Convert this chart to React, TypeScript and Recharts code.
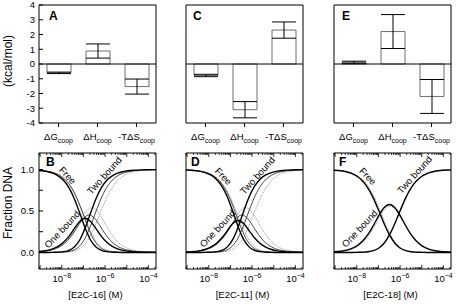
import React from 'react'
import {
  BarChart,
  Bar,
  ErrorBar,
  LineChart,
  Line,
  XAxis,
  YAxis,
  ReferenceLine,
  ReferenceDot,
} from 'recharts'

const FONT = '"Liberation Sans", Arial, Helvetica, sans-serif'

// cooperativity energetics, kcal/mol
const terms = ['ΔG', 'ΔH', '-TΔS']
const e2c16Energy = [-0.6, 0.88, -1.53]
const e2c16Err = [0.05, 0.48, 0.51]
const e2c11Energy = [-0.78, -3.1, 2.3]
const e2c11Err = [0.08, 0.55, 0.55]
const e2c18Energy = [0.12, 2.2, -2.2]
const e2c18Err = [0.07, 1.15, 1.15]

const energyTicks = [-4, -3, -2, -1, 0, 1, 2, 3, 4]
const fractionTicks = [0, 0.25, 0.5, 0.75, 1]
const decadeTicks = [-9, -8, -7, -6, -5, -4]
const labelledDecades = [-8, -6, -4]
const minorSteps = [2, 3, 4, 5, 6, 7, 8, 9]
const logDomain = [-9.05, -3.65]

// species fractions, x = log10 [protein] (M)
// E2C-16
const b16FitLog = [-9.67, -9.17, -8.67, -8.42, -8.17, -7.92, -7.67, -7.42, -7.17, -6.92, -6.67, -6.42, -6.17, -5.92, -5.67, -5.42, -5.17, -4.67, -4.17, -3.42]
const b16FitFree = [0.997, 0.992, 0.975, 0.957, 0.924, 0.87, 0.781, 0.648, 0.475, 0.294, 0.15, 0.065, 0.025, 0.009, 0.003, 0.001, 0, 0, 0, 0]
const b16FitOne = [0.003, 0.008, 0.024, 0.042, 0.073, 0.122, 0.194, 0.287, 0.374, 0.412, 0.374, 0.287, 0.194, 0.122, 0.073, 0.042, 0.024, 0.008, 0.003, 0]
const b16FitTwo = [0, 0, 0, 0.001, 0.003, 0.009, 0.025, 0.065, 0.15, 0.294, 0.475, 0.648, 0.781, 0.87, 0.924, 0.957, 0.975, 0.992, 0.997, 1]

const b16AltLog = [-9.49, -8.99, -8.49, -8.24, -7.99, -7.74, -7.49, -7.24, -6.99, -6.74, -6.49, -6.24, -5.99, -5.74, -5.49, -5.24, -4.99, -4.49, -3.99, -3.24]
const b16AltFree = [0.997, 0.991, 0.971, 0.95, 0.913, 0.851, 0.755, 0.617, 0.446, 0.274, 0.141, 0.062, 0.024, 0.009, 0.003, 0.001, 0, 0, 0, 0]
const b16AltOne = [0.003, 0.009, 0.029, 0.05, 0.085, 0.14, 0.221, 0.322, 0.414, 0.452, 0.414, 0.322, 0.221, 0.14, 0.085, 0.05, 0.029, 0.009, 0.003, 0.001]
const b16AltTwo = [0, 0, 0, 0.001, 0.003, 0.009, 0.024, 0.062, 0.141, 0.274, 0.446, 0.617, 0.755, 0.851, 0.913, 0.95, 0.971, 0.991, 0.997, 0.999]

const b16NcLog = [-9.37, -8.87, -8.37, -8.12, -7.87, -7.62, -7.37, -7.12, -6.87, -6.62, -6.37, -6.12, -5.87, -5.62, -5.37, -5.12, -4.87, -4.37, -3.87, -3.12]
const b16NcFree = [0.996, 0.987, 0.96, 0.93, 0.881, 0.803, 0.69, 0.543, 0.379, 0.23, 0.12, 0.054, 0.022, 0.008, 0.003, 0.001, 0, 0, 0, 0]
const b16NcOne = [0.004, 0.013, 0.04, 0.069, 0.116, 0.189, 0.288, 0.403, 0.501, 0.54, 0.501, 0.403, 0.288, 0.189, 0.116, 0.069, 0.04, 0.013, 0.004, 0.001]
const b16NcTwo = [0, 0, 0, 0.001, 0.003, 0.008, 0.022, 0.054, 0.12, 0.23, 0.379, 0.543, 0.69, 0.803, 0.881, 0.93, 0.96, 0.987, 0.996, 0.999]

// E2C-11
const d11FitLog = [-9.39, -8.89, -8.39, -8.14, -7.89, -7.64, -7.39, -7.14, -6.89, -6.64, -6.39, -6.14, -5.89, -5.64, -5.39, -5.14, -4.89, -4.39, -3.89, -3.14]
const d11FitFree = [0.998, 0.993, 0.978, 0.961, 0.932, 0.881, 0.798, 0.669, 0.495, 0.308, 0.157, 0.067, 0.025, 0.009, 0.003, 0.001, 0, 0, 0, 0]
const d11FitOne = [0.002, 0.007, 0.022, 0.038, 0.066, 0.11, 0.177, 0.264, 0.348, 0.385, 0.348, 0.264, 0.177, 0.11, 0.066, 0.038, 0.022, 0.007, 0.002, 0]
const d11FitTwo = [0, 0, 0, 0.001, 0.003, 0.009, 0.025, 0.067, 0.157, 0.308, 0.495, 0.669, 0.798, 0.881, 0.932, 0.961, 0.978, 0.993, 0.998, 1]

const d11AltLog = [-9.22, -8.72, -8.22, -7.97, -7.72, -7.47, -7.22, -6.97, -6.72, -6.47, -6.22, -5.97, -5.72, -5.47, -5.22, -4.97, -4.72, -4.22, -3.72, -2.97]
const d11AltFree = [0.997, 0.991, 0.971, 0.95, 0.913, 0.851, 0.755, 0.617, 0.446, 0.274, 0.141, 0.062, 0.024, 0.009, 0.003, 0.001, 0, 0, 0, 0]
const d11AltOne = [0.003, 0.009, 0.029, 0.05, 0.085, 0.14, 0.221, 0.322, 0.414, 0.452, 0.414, 0.322, 0.221, 0.14, 0.085, 0.05, 0.029, 0.009, 0.003, 0.001]
const d11AltTwo = [0, 0, 0, 0.001, 0.003, 0.009, 0.024, 0.062, 0.141, 0.274, 0.446, 0.617, 0.755, 0.851, 0.913, 0.95, 0.971, 0.991, 0.997, 0.999]

const d11NcLog = [-9.1, -8.55, -8.05, -7.8, -7.55, -7.3, -7.05, -6.8, -6.55, -6.3, -6.05, -5.8, -5.55, -5.3, -5.05, -4.8, -4.55, -4.05, -3.55, -2.8]
const d11NcFree = [0.996, 0.987, 0.96, 0.93, 0.881, 0.803, 0.69, 0.543, 0.379, 0.23, 0.12, 0.054, 0.022, 0.008, 0.003, 0.001, 0, 0, 0, 0]
const d11NcOne = [0.004, 0.013, 0.04, 0.069, 0.116, 0.189, 0.288, 0.403, 0.501, 0.54, 0.501, 0.403, 0.288, 0.189, 0.116, 0.069, 0.04, 0.013, 0.004, 0.001]
const d11NcTwo = [0, 0, 0, 0.001, 0.003, 0.008, 0.022, 0.054, 0.12, 0.23, 0.379, 0.543, 0.69, 0.803, 0.881, 0.93, 0.96, 0.987, 0.996, 0.999]

// E2C-18
const f18FitLog = [-9.24, -8.74, -8.24, -7.99, -7.74, -7.49, -7.24, -6.99, -6.74, -6.49, -6.24, -5.99, -5.74, -5.49, -5.24, -4.99, -4.74, -4.24, -3.74, -2.99]
const f18FitFree = [0.995, 0.985, 0.953, 0.919, 0.864, 0.778, 0.658, 0.508, 0.349, 0.211, 0.111, 0.051, 0.021, 0.008, 0.003, 0.001, 0, 0, 0, 0]
const f18FitOne = [0.005, 0.015, 0.047, 0.08, 0.134, 0.214, 0.322, 0.442, 0.54, 0.579, 0.54, 0.442, 0.322, 0.214, 0.134, 0.08, 0.047, 0.015, 0.005, 0.001]
const f18FitTwo = [0, 0, 0, 0.001, 0.003, 0.008, 0.021, 0.051, 0.111, 0.211, 0.349, 0.508, 0.658, 0.778, 0.864, 0.919, 0.953, 0.985, 0.995, 0.999]

const f18NcLog = [-9.21, -8.71, -8.21, -7.96, -7.71, -7.46, -7.21, -6.96, -6.71, -6.46, -6.21, -5.96, -5.71, -5.46, -5.21, -4.96, -4.71, -4.21, -3.71, -2.96]
const f18NcFree = [0.996, 0.986, 0.957, 0.926, 0.874, 0.794, 0.677, 0.529, 0.367, 0.222, 0.116, 0.053, 0.021, 0.008, 0.003, 0.001, 0, 0, 0, 0]
const f18NcOne = [0.004, 0.014, 0.043, 0.073, 0.123, 0.198, 0.301, 0.418, 0.516, 0.556, 0.516, 0.418, 0.301, 0.198, 0.123, 0.073, 0.043, 0.014, 0.004, 0.001]
const f18NcTwo = [0, 0, 0, 0.001, 0.003, 0.008, 0.021, 0.053, 0.116, 0.222, 0.367, 0.529, 0.677, 0.794, 0.874, 0.926, 0.957, 0.986, 0.996, 0.999]

type Row = { x: number; free: number; one: number; two: number }
const toRows = (log: number[], free: number[], one: number[], two: number[]): Row[] =>
  log.map((x, i) => ({ x, free: free[i], one: one[i], two: two[i] }))

const lineStyles: Record<string, any> = {
  fit: { stroke: '#000', strokeWidth: 1.4 },
  alt: { stroke: '#1a1a1a', strokeWidth: 0.8 },
  nc: { stroke: '#9a9a9a', strokeWidth: 0.9, strokeDasharray: '1.5 1' },
}

const logTicks = [...decadeTicks, ...[-10, ...decadeTicks].flatMap((n) => minorSteps.map((k) => n + Math.log10(k)))]
  .filter((v) => v > logDomain[0] && v < logDomain[1])
  .sort((a, b) => a - b)

function TermTick(props: any) {
  const { x, y, payload } = props
  return (
    <text x={x} y={y + 10} textAnchor="middle" fontFamily={FONT} fontSize={9.5} fill="#000">
      {payload.value}
      <tspan fontSize={7} dy={2.5}>coop</tspan>
    </text>
  )
}

function LogTick(props: any) {
  const { x, y, payload, side } = props
  const v = payload.value
  const major = Math.abs(v - Math.round(v)) < 1e-6
  const len = major ? 4 : 2
  const dir = side === 'top' ? 1 : -1
  const showLabel = side === 'bottom' && major && labelledDecades.includes(Math.round(v))
  return (
    <g>
      <line x1={x} y1={y} x2={x} y2={y + dir * len} stroke="#000" strokeWidth={0.8} />
      {showLabel && (
        <text x={x} y={y + 13} textAnchor="middle" fontFamily={FONT} fontSize={9.5} fill="#000">
          10<tspan fontSize={7} dy={-4}>{'\u2212' + Math.abs(Math.round(v))}</tspan>
        </text>
      )}
    </g>
  )
}

const yTitle = (text: string, cy: number) => (props: any) => {
  const vb = props.viewBox
  const cx = vb.x + 9
  return (
    <text
      transform={`translate(${cx},${cy}) rotate(-90)`}
      textAnchor="middle"
      dominantBaseline="central"
      fontFamily={FONT}
      fontSize={12}
      fill="#000"
    >
      {text}
    </text>
  )
}

const xTitle = (text: string) => (props: any) => {
  const vb = props.viewBox
  return (
    <text x={vb.x + vb.width / 2 - 2} y={vb.y + 29} textAnchor="middle" fontFamily={FONT} fontSize={9.5} fill="#000">
      {text}
    </text>
  )
}

const noteLabel = (text: string, angle: number) => (props: any) => {
  const vb = props.viewBox
  return (
    <text
      transform={`translate(${vb.x},${vb.y}) rotate(${angle})`}
      textAnchor="middle"
      dominantBaseline="central"
      fontFamily={FONT}
      fontSize={9.5}
      fill="#000"
    >
      {text}
    </text>
  )
}

function EnergyPanel({ frameLeft, values, errors, showY }: any) {
  const data = terms.map((t, i) => ({ term: t, value: values[i], err: errors[i] }))
  return (
    <div style={{ position: 'absolute', left: frameLeft - 40, top: 0 }}>
      <BarChart width={161} height={153} data={data} margin={{ top: 4, right: 3, bottom: 0, left: 0 }}>
        <XAxis xAxisId="b" dataKey="term" interval={0} tickSize={4} tickMargin={3} tick={<TermTick />} height={30} stroke="#000" />
        <XAxis xAxisId="t" orientation="top" dataKey="term" height={1} tick={false} tickLine={false} stroke="#000" />
        <YAxis
          yAxisId="l"
          domain={[-4, 4]}
          ticks={energyTicks}
          interval={0}
          width={40}
          tickSize={-4}
          tickMargin={8}
          stroke="#000"
          tick={showY ? { fontSize: 9.5, fill: '#000', fontFamily: FONT } : false}
          label={showY ? yTitle('(kcal/mol)', 61) : undefined}
        />
        <YAxis yAxisId="r" orientation="right" domain={[-4, 4]} ticks={energyTicks} interval={0} width={1} tickSize={-4} tick={false} stroke="#000" />
        <Bar xAxisId="b" yAxisId="l" dataKey="value" fill="#fff" stroke="#6e6e6e" strokeWidth={1} barSize={24} isAnimationActive={false}>
          <ErrorBar dataKey="err" width={12} stroke="#000" strokeWidth={1} direction="y" />
        </Bar>
        <ReferenceLine xAxisId="b" yAxisId="l" y={0} stroke="#000" strokeWidth={1} />
      </BarChart>
    </div>
  )
}

function SpeciesPanel({ frameLeft, title, sets, notes, showY }: any) {
  return (
    <div style={{ position: 'absolute', left: frameLeft - 40, top: 148 }}>
      <LineChart width={161} height={157} margin={{ top: 4, right: 3, bottom: 0, left: 0 }}>
        <XAxis
          xAxisId="b"
          dataKey="x"
          type="number"
          domain={logDomain}
          allowDataOverflow
          ticks={logTicks}
          interval={0}
          tickSize={0}
          tickMargin={0}
          tickLine={false}
          tick={<LogTick side="bottom" />}
          height={36}
          stroke="#000"
          label={xTitle(title)}
        />
        <XAxis
          xAxisId="t"
          orientation="top"
          dataKey="x"
          type="number"
          domain={logDomain}
          allowDataOverflow
          ticks={logTicks}
          interval={0}
          tickSize={0}
          tickMargin={0}
          tickLine={false}
          tick={<LogTick side="top" />}
          height={1}
          stroke="#000"
        />
        <YAxis
          yAxisId="l"
          domain={[-0.2, 1.2]}
          ticks={fractionTicks}
          interval={0}
          width={40}
          tickSize={-4}
          tickMargin={9}
          stroke="#000"
          tickFormatter={(v: number) => (v % 0.5 === 0 ? v.toFixed(1) : '')}
          tick={showY ? { fontSize: 9.5, fill: '#000', fontFamily: FONT } : false}
          label={showY ? yTitle('Fraction DNA', 55) : undefined}
        />
        <YAxis yAxisId="r" orientation="right" domain={[-0.2, 1.2]} ticks={fractionTicks} interval={0} width={1} tickSize={-4} tick={false} stroke="#000" />
        {sets.map((s: any) =>
          ['free', 'one', 'two'].map((k) => (
            <Line
              key={s.kind + k}
              xAxisId="b"
              yAxisId="l"
              data={s.rows}
              dataKey={k}
              type="monotone"
              dot={false}
              activeDot={false}
              isAnimationActive={false}
              {...lineStyles[s.kind]}
            />
          ))
        )}
        {notes.map((n: any) => (
          <ReferenceDot key={n.text} xAxisId="b" yAxisId="l" x={n.x} y={n.y} r={0} stroke="none" label={noteLabel(n.text, n.angle)} />
        ))}
      </LineChart>
    </div>
  )
}

const letterStyle: React.CSSProperties = {
  position: 'absolute',
  fontFamily: FONT,
  fontWeight: 'bold',
  fontSize: 12,
  lineHeight: '12px',
}

export default function App() {
  const b16Sets = [
    { kind: 'nc', rows: toRows(b16NcLog, b16NcFree, b16NcOne, b16NcTwo) },
    { kind: 'alt', rows: toRows(b16AltLog, b16AltFree, b16AltOne, b16AltTwo) },
    { kind: 'fit', rows: toRows(b16FitLog, b16FitFree, b16FitOne, b16FitTwo) },
  ]
  const d11Sets = [
    { kind: 'nc', rows: toRows(d11NcLog, d11NcFree, d11NcOne, d11NcTwo) },
    { kind: 'alt', rows: toRows(d11AltLog, d11AltFree, d11AltOne, d11AltTwo) },
    { kind: 'fit', rows: toRows(d11FitLog, d11FitFree, d11FitOne, d11FitTwo) },
  ]
  const f18Sets = [
    { kind: 'nc', rows: toRows(f18NcLog, f18NcFree, f18NcOne, f18NcTwo) },
    { kind: 'fit', rows: toRows(f18FitLog, f18FitFree, f18FitOne, f18FitTwo) },
  ]
  const notes = (free: number[], one: number[], two: number[]) => [
    { text: 'Free', x: free[0], y: free[1], angle: 47 },
    { text: 'One bound', x: one[0], y: one[1], angle: -47 },
    { text: 'Two bound', x: two[0], y: two[1], angle: -48 },
  ]

  return (
    <div style={{ position: 'absolute', left: 0, top: 0, width: 463, height: 305, background: '#fff', overflow: 'hidden' }}>
      <EnergyPanel frameLeft={39} values={e2c16Energy} errors={e2c16Err} showY />
      <EnergyPanel frameLeft={186} values={e2c11Energy} errors={e2c11Err} />
      <EnergyPanel frameLeft={334} values={e2c18Energy} errors={e2c18Err} />
      <SpeciesPanel frameLeft={39} title="[E2C-16] (M)" sets={b16Sets} notes={notes([-7.72, 0.93], [-7.99, 0.28], [-6.04, 0.93])} showY />
      <SpeciesPanel frameLeft={186} title="[E2C-11] (M)" sets={d11Sets} notes={notes([-7.32, 0.92], [-7.6, 0.29], [-5.76, 0.93])} />
      <SpeciesPanel frameLeft={334} title="[E2C-18] (M)" sets={f18Sets} notes={notes([-7.48, 0.92], [-7.87, 0.29], [-5.34, 0.94])} />
      <div style={{ ...letterStyle, left: 49, top: 10 }}>A</div>
      <div style={{ ...letterStyle, left: 193, top: 10 }}>C</div>
      <div style={{ ...letterStyle, left: 342, top: 10 }}>E</div>
      <div style={{ ...letterStyle, left: 46, top: 156 }}>B</div>
      <div style={{ ...letterStyle, left: 191, top: 156 }}>D</div>
      <div style={{ ...letterStyle, left: 339, top: 156 }}>F</div>
    </div>
  )
}
